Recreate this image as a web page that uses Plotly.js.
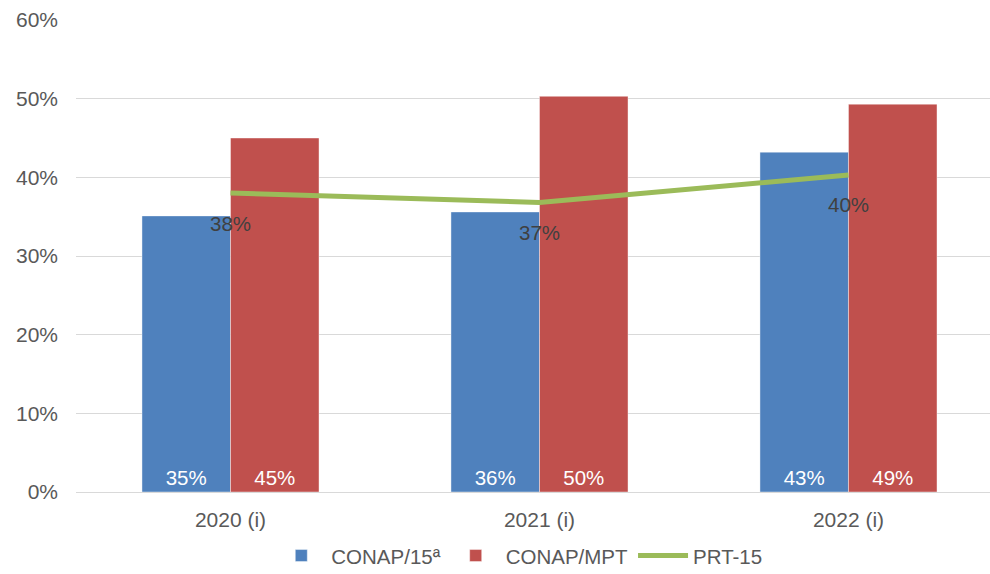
<!DOCTYPE html>
<html>
<head>
<meta charset="utf-8">
<script src="https://cdn.plot.ly/plotly-3.0.1.min.js"></script>
<style>html,body{margin:0;padding:0;background:#fff;}#chart{width:990px;height:574px;}</style>
</head>
<body>
<div id="chart"></div>
<script>
const categories = ["2020 (i)", "2021 (i)", "2022 (i)"];
const conap15 = [0.351, 0.356, 0.432];
const conapMpt = [0.450, 0.503, 0.493];
const prt15 = [0.380, 0.368, 0.403];
const seriesNames = ["CONAP/15ª", "CONAP/MPT", "PRT-15"];
const yTickVals = [0, 0.1, 0.2, 0.3, 0.4, 0.5, 0.6];

const FONT = "Liberation Sans, Arial, sans-serif";

const traces = [
  {
    type: "bar", name: seriesNames[0], x: categories, y: conap15,
    marker: {color: "#4F81BD", line: {color: "rgba(255,255,255,0.6)", width: 0.7}},
    texttemplate: "%{y:.0%}", textposition: "inside", insidetextanchor: "start",
    textangle: 0, constraintext: "none",
    textfont: {family: FONT, size: 20.5, color: "#FFFFFF"}, hoverinfo: "skip"
  },
  {
    type: "bar", name: seriesNames[1], x: categories, y: conapMpt,
    marker: {color: "#C0504D", line: {color: "rgba(255,255,255,0.6)", width: 0.7}},
    texttemplate: "%{y:.0%}", textposition: "inside", insidetextanchor: "start",
    textangle: 0, constraintext: "none",
    textfont: {family: FONT, size: 20.5, color: "#FFFFFF"}, hoverinfo: "skip"
  },
  {
    type: "scatter", mode: "lines", name: seriesNames[2], x: categories, y: prt15,
    line: {color: "#9BBB59", width: 5}, hoverinfo: "skip"
  }
];

const annotations = categories.map((c, i) => ({
  x: c, y: prt15[i], xref: "x", yref: "y",
  text: Math.round(prt15[i] * 100) + "%",
  showarrow: false, yshift: -30,
  font: {family: FONT, size: 20.5, color: "#404040"}
}));

const layout = {
  width: 990, height: 574,
  margin: {l: 76, r: 0, t: 20, b: 82, autoexpand: false},
  paper_bgcolor: "#FFFFFF", plot_bgcolor: "#FFFFFF",
  font: {family: FONT, size: 21, color: "#595959"},
  barmode: "group", bargap: 0.427, bargroupgap: 0,
  showlegend: true,
  legend: {
    orientation: "h", x: 0.485, xanchor: "center", y: 0 - 0.135, yanchor: "middle",
    font: {family: FONT, size: 20.5, color: "#595959"}, traceorder: "normal",
    itemwidth: 50, borderwidth: 0
  },
  xaxis: {
    type: "category", range: [-0.5, 2.458],
    showgrid: false, zeroline: false, showline: true,
    linecolor: "#D9D9D9", linewidth: 1, ticks: "", ticklabelstandoff: 9,
    tickfont: {family: FONT, size: 21, color: "#595959"}
  },
  yaxis: {
    range: [0, 0.6], tickvals: yTickVals, tickformat: ".0%",
    showgrid: true, gridcolor: "#D9D9D9", gridwidth: 1,
    zeroline: true, zerolinecolor: "#D9D9D9", zerolinewidth: 1,
    showline: false, ticks: "", ticklabelstandoff: 17,
    tickfont: {family: FONT, size: 21, color: "#595959"}
  },
  annotations: annotations
};

Plotly.newPlot("chart", traces, layout, {displayModeBar: false, staticPlot: true});
</script>
</body>
</html>
